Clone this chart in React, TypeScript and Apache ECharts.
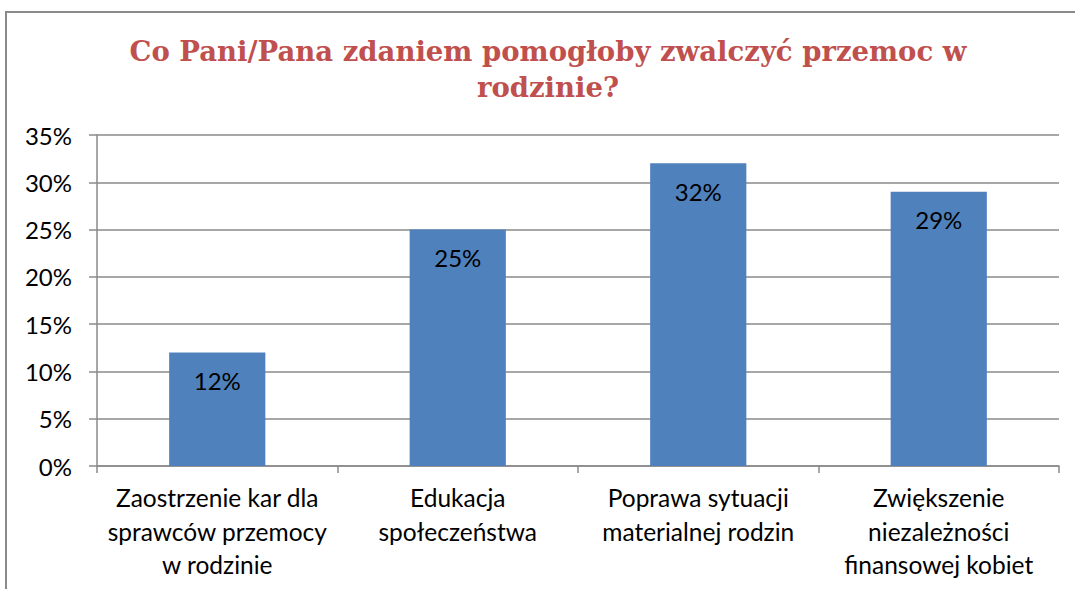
import React, { useEffect, useRef } from "react";
import * as echarts from "echarts";

const TITLE = "Co Pani/Pana zdaniem pomogłoby zwalczyć przemoc w\nrodzinie?";
const categories = [
  "Zaostrzenie kar dla\nsprawców przemocy\nw rodzinie",
  "Edukacja\nspołeczeństwa",
  "Poprawa sytuacji\nmaterialnej rodzin",
  "Zwiększenie\nniezależności\nfinansowej kobiet",
];
const values = [12, 25, 32, 29];
const yMin = 0;
const yMax = 35;
const yStep = 5;

export default function App() {
  const ref = useRef<HTMLDivElement>(null);
  useEffect(() => {
    if (!ref.current) return;
    const chart = echarts.init(ref.current, null, { renderer: "svg" });
    const font = "Lato, 'Noto Sans', sans-serif";
    chart.setOption({
      animation: false,
      backgroundColor: "#ffffff",
      graphic: [
        {
          type: "rect",
          shape: { x: 6, y: 12, width: 1200, height: 700 },
          style: { fill: "none", stroke: "#8a8a8a", lineWidth: 2 },
          silent: true,
        },
        {
          type: "text",
          x: 548,
          y: 33,
          style: {
            text: TITLE,
            align: "center",
            verticalAlign: "top",
            fontFamily: "'DejaVu Serif', serif",
            fontWeight: "bold",
            fontSize: 27.5,
            lineHeight: 36,
            fill: "#C0504D",
          },
        },
      ],
      grid: { left: 97, right: 16, top: 135, bottom: 123, containLabel: false },
      xAxis: {
        type: "category",
        data: categories,
        axisLine: { show: true, lineStyle: { color: "#8a8a8a", width: 1.5 } },
        axisTick: { show: true, length: 7, lineStyle: { color: "#8a8a8a", width: 1.5 } },
        axisLabel: {
          margin: 15,
          color: "#000",
          fontFamily: font,
          fontSize: 24.5,
          lineHeight: 33.5,
          interval: 0,
          align: "center",
        },
      },
      yAxis: {
        type: "value",
        min: yMin,
        max: yMax,
        interval: yStep,
        axisLine: { show: true, lineStyle: { color: "#8a8a8a", width: 1.5 } },
        axisTick: { show: true, length: 8, lineStyle: { color: "#8a8a8a", width: 1.5 } },
        splitLine: { show: true, lineStyle: { color: "#8a8a8a", width: 1.5 } },
        axisLabel: {
          formatter: "{value}%",
          margin: 25,
          color: "#000",
          fontFamily: font,
          fontSize: 24,
        },
      },
      series: [
        {
          type: "bar",
          data: values,
          barCategoryGap: "60%",
          itemStyle: { color: "#4F81BD" },
          label: {
            show: true,
            position: "insideTop",
            distance: 16,
            formatter: "{c}%",
            color: "#000",
            fontFamily: font,
            fontSize: 24,
          },
        },
      ],
    });
    return () => chart.dispose();
  }, []);
  return (
    <div
      ref={ref}
      style={{ position: "fixed", left: 0, top: 0, width: 1075, height: 589 }}
    />
  );
}
